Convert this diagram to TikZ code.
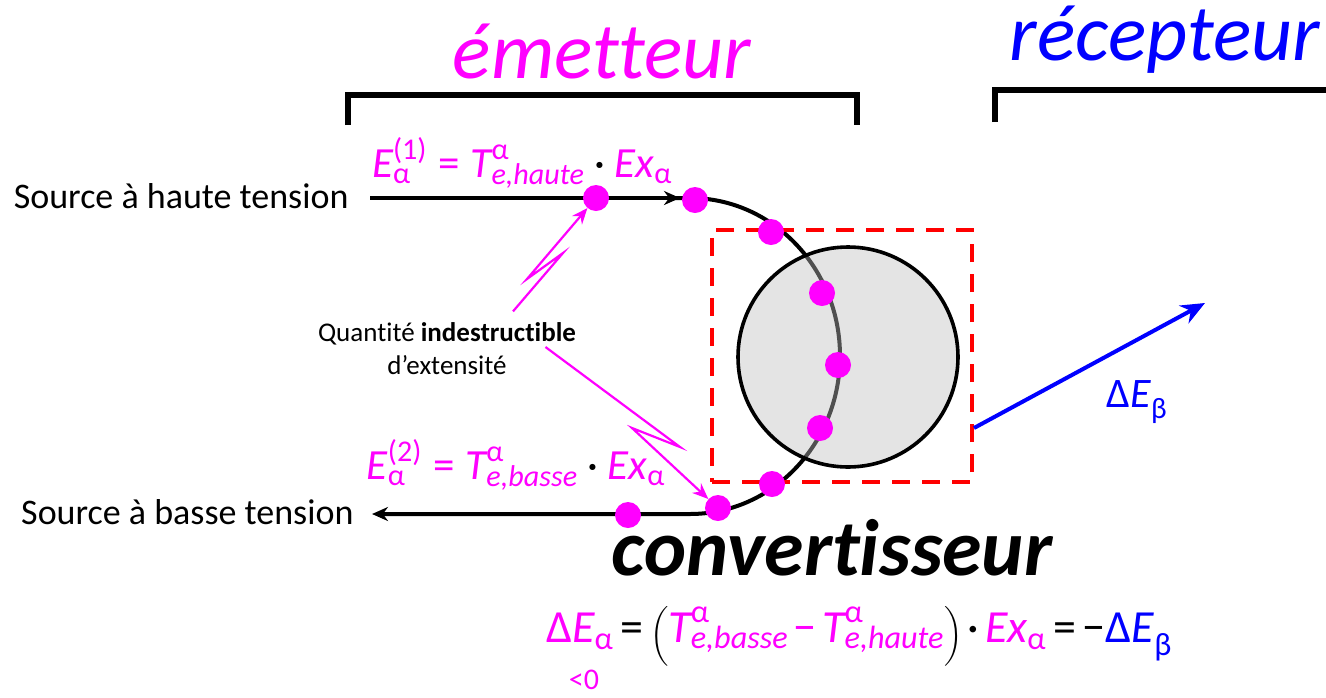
\documentclass[tikz,border=0pt]{standalone}
\usepackage{amsmath}
\usepackage{fontspec}
\setmainfont{Carlito}[Ligatures=CommonOff]
\usetikzlibrary{arrows.meta,positioning}

\definecolor{mag}{RGB}{255,0,255}
\definecolor{blu}{RGB}{0,0,255}
\definecolor{rd}{RGB}{255,0,0}
\newcommand{\al}{\text{α}}
\newcommand{\Tx}[1]{\textit{T}^{\al}_{\textit{e,#1}}}
\newcommand{\eqs}{\mathrel{\text{=}}}
\newcommand{\pdot}{\mathbin{\textcolor{black}{\text{·}}}}

\begin{document}
\begin{tikzpicture}[x=1pt,y=-1pt,
    dot/.style={circle,fill=mag,inner sep=0pt,minimum size=26pt},
    flow/.style={line width=4pt,black},
    hint/.style={mag,line width=2.2pt,-{Stealth[length=16pt,width=13pt]}},
    bracket/.style={line width=6pt},
    eqn/.style={mag,font=\fontsize{43}{46}\selectfont}]
    \useasboundingbox (0,0) rectangle (1326,697);

    % Brackets and titles
    \draw[bracket] (348,125) -- (348,95) -- (857,95) -- (857,125);
    \draw[bracket] (995,122) -- (995,90) -- (1326,90);
    \node[mag,font=\fontsize{80}{86}\selectfont\itshape] (emet) at (602,52) {émetteur};
    \node[blu,font=\fontsize{80}{86}\selectfont\itshape] (recep) at (1165,40) {récepteur};

    % Sources
    \node[anchor=east,font=\fontsize{36}{40}\selectfont] (src_h) at (352,196) {Source à haute tension};
    \node[anchor=east,font=\fontsize{36}{40}\selectfont] (src_b) at (357,512) {Source à basse tension};
    \coordinate (bend_t) at (690,198);

    % Flow path
    \draw[flow,-{Stealth[length=16pt,width=14pt]}] ([xshift=18pt,yshift=-2pt]src_h.east) -- (680,198);
    \draw[flow,-{Stealth[length=16pt,width=14pt]}] (674,198) -- (bend_t)
        arc[start angle=-90,end angle=90,x radius=150,y radius=158] -- ([xshift=15pt,yshift=-2pt]src_b.east);

    % Converter
    \node[circle,draw=black,line width=3.6pt,fill=black!25,fill opacity=0.42,
          minimum size=220pt] (machine) at (848,357) {};
    \node[draw=rd,line width=4pt,dash pattern=on 18pt off 12pt,
          minimum width=260pt,minimum height=252pt] (conv) at (842,356) {};
    \node[font=\fontsize{80}{86}\selectfont\bfseries\itshape] (conv_lbl) at (832,548) {convertisseur};

    % Dots
    \node[dot] (d1) at (596,198) {};
    \node[dot] (d2) at (695,200) {};
    \node[dot] (d3) at (771,232) {};
    \node[dot] (d4) at (822,293) {};
    \node[dot] (d5) at (838,365) {};
    \node[dot] (d6) at (820,428) {};
    \node[dot] (d7) at (772,484) {};
    \node[dot] (d8) at (718,508) {};
    \node[dot] (d9) at (628,515) {};

    % Equations
    \node[eqn] (eq_h) at (522,163) {$\textit{E}^{\text{(1)}}_{\al}\,\eqs\,\Tx{haute}\,\pdot\,\textit{Ex}_{\al}$};
    \node[eqn] (eq_b) at (516,465) {$\textit{E}^{\text{(2)}}_{\al}\,\eqs\,\Tx{basse}\,\pdot\,\textit{Ex}_{\al}$};
    \node[font=\fontsize{46}{50}\selectfont] (eq_main) at (859,636)
        {$\textcolor{mag}{\text{Δ}\textit{E}_{\al}}\eqs\left(\textcolor{mag}{\Tx{basse}\mathbin{\text{−}}\Tx{haute}}\right)\pdot\textcolor{mag}{\textit{Ex}_{\al}}\eqs\text{−}\textcolor{blu}{\text{Δ}\textit{E}_{\text{β}}}$};
    \node[mag,font=\fontsize{30}{34}\selectfont] (neg) at (584,680) {<0};

    % Exchange with the receiver
    \node[blu,font=\fontsize{42}{46}\selectfont] (dEb) at (1137,402) {$\text{Δ}\textit{E}_{\text{β}}$};
    \draw[blu,line width=4pt,-{Stealth[length=24pt,width=20pt]}] ([yshift=-72pt]conv.east) -- (1205,303);

    % Annotation
    \node[align=center,font=\fontsize{27}{33}\selectfont] (qty) at (447,349)
        {Quantité \textbf{indestructible}\\d’extensité};
    \draw[hint] ([xshift=66pt,yshift=8pt]qty.north) -- (563,253) -- (527,279) -- (d1);
    \draw[hint] ([xshift=-34pt,yshift=2pt]qty.east) -- (680,447) -- (632,428) -- (d8);
\end{tikzpicture}
\end{document}
